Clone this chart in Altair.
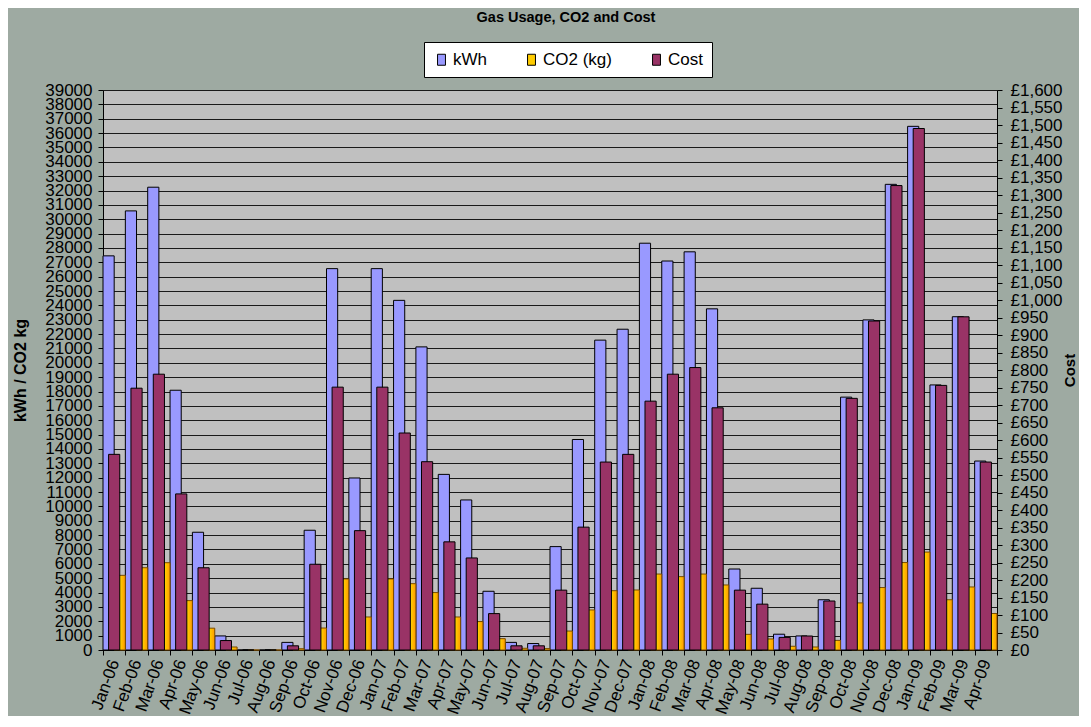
import altair as alt
import pandas as pd

months = ["Jan-06", "Feb-06", "Mar-06", "Apr-06", "May-06", "Jun-06", "Jul-06", "Aug-06",
          "Sep-06", "Oct-06", "Nov-06", "Dec-06", "Jan-07", "Feb-07", "Mar-07", "Apr-07",
          "May-07", "Jun-07", "Jul-07", "Aug-07", "Sep-07", "Oct-07", "Nov-07", "Dec-07",
          "Jan-08", "Feb-08", "Mar-08", "Apr-08", "May-08", "Jun-08", "Jul-08", "Aug-08",
          "Sep-08", "Oct-08", "Nov-08", "Dec-08", "Jan-09", "Feb-09", "Mar-09", "Apr-09"]

kwh = [27450, 30580, 32230, 18090, 8200, 980, 0, 0, 530, 8340, 26560, 11980,
       26560, 24350, 21110, 12230, 10450, 4090, 530, 450, 7200, 14660, 21580, 22340,
       28330, 27090, 27730, 23760, 5640, 4300, 1100, 980, 3500, 17610, 22990, 32430,
       36470, 18460, 23210, 13160]

co2 = [5200, 5730, 6080, 3440, 1520, 210, 0, 0, 90, 1530, 4950, 2300,
       4950, 4620, 4000, 2300, 1980, 790, 120, 100, 1320, 2790, 4130, 4180,
       5290, 5110, 5290, 4530, 1090, 770, 260, 210, 670, 3280, 4350, 6090,
       6820, 3500, 4390, 2540]

cost = [559, 748, 788, 446, 235, 27, 0, 0, 12, 245, 751, 341,
        751, 620, 538, 309, 263, 104, 12, 12, 171, 351, 537, 559,
        711, 788, 807, 692, 171, 131, 36, 40, 140, 719, 940, 1327,
        1490, 756, 952, 537]

series_names = ["kWh", "CO2 (kg)", "Cost"]
series_colors = ["#9999FF", "#FFCC00", "#993366"]
left_ticks = list(range(0, 39001, 1000))
right_ticks = list(range(0, 1601, 50))

df = pd.DataFrame({"Month": months, "kWh": kwh, "CO2": co2, "Cost": cost})

FONT = "Liberation Sans"

color_scale = alt.Scale(domain=series_names, range=series_colors)
legend = alt.Legend(
    orient="none", legendX=321, legendY=-48, direction="horizontal", title=None,
    fillColor="white", strokeColor="black", padding=9,
    symbolType="M-0.72,-1H0.72V1H-0.72Z", symbolSize=121,
    symbolStrokeColor="black", symbolStrokeWidth=1, symbolOpacity=1,
    labelFont=FONT, labelFontSize=17, labelColor="black", labelOffset=3,
    columnPadding=36,
)

x_enc = alt.X(
    "Month:N", sort=months, title=None,
    scale=alt.Scale(paddingInner=0, paddingOuter=0),
    axis=alt.Axis(labelAngle=-70, labelFont=FONT, labelFontSize=17, labelColor="black",
                  tickBand="extent", tickColor="black", tickSize=5, domainColor="black",
                  labelPadding=5, grid=False),
)
xoff = alt.XOffset("series:N", scale=alt.Scale(domain=["kWh", "CO2 (kg)"], paddingInner=0, paddingOuter=0))

left_scale = alt.Scale(domain=[0, 39000], nice=False, zero=True)
left_axis = alt.Axis(
    values=left_ticks, format="d", title="kWh / CO2 kg", titleFont=FONT, titleFontSize=16,
    titleFontWeight="bold", titleColor="black", titlePadding=16,
    labelFont=FONT, labelFontSize=17, labelColor="black", labelOverlap=False,
    labelPadding=6, tickColor="black", tickSize=5, domainColor="black",
    grid=True, gridColor="#1a1a1a", gridWidth=1,
)

kwh_layer = alt.Chart(df).transform_calculate(series='"kWh"').mark_bar(
    stroke="black", strokeWidth=1
).encode(
    x=x_enc, xOffset=xoff,
    y=alt.Y("kWh:Q", scale=left_scale, axis=left_axis),
    color=alt.Color("series:N", scale=color_scale, legend=legend),
)

gradient = {
    "gradient": "linear", "x1": 0, "y1": 0, "x2": 1, "y2": 0,
    "stops": [
        {"offset": 0, "color": "#FF9900"},
        {"offset": 0.5, "color": "#FFD400"},
        {"offset": 1, "color": "#FF9900"},
    ],
}

co2_layer = alt.Chart(df).transform_calculate(series='"CO2 (kg)"').mark_bar(
    stroke="#7a4d00", strokeWidth=1
).encode(
    x=x_enc, xOffset=xoff,
    y=alt.Y("CO2:Q", scale=left_scale, axis=left_axis),
    color=alt.Color("series:N", scale=color_scale, legend=legend),
    fill=alt.value(gradient),
)

cost_layer = alt.Chart(df).transform_calculate(series='"Cost"').mark_bar(
    stroke="black", strokeWidth=1, width=alt.RelativeBandSize(0.5)
).encode(
    x=x_enc,
    y=alt.Y("Cost:Q", scale=alt.Scale(domain=[0, 1600], nice=False, zero=True),
            axis=alt.Axis(orient="right", values=right_ticks, title="Cost",
                          labelExpr="'£' + format(datum.value, ',')",
                          titleFont=FONT, titleFontSize=15, titleFontWeight="bold",
                          titleColor="black", titlePadding=16, titleAngle=270,
                          labelFont=FONT, labelFontSize=17, labelColor="black",
                          labelOverlap=False, labelPadding=8, tickColor="black",
                          tickSize=5, domainColor="black", grid=False)),
    color=alt.Color("series:N", scale=color_scale, legend=legend),
)

primary = alt.layer(kwh_layer, co2_layer)

chart = alt.layer(primary, cost_layer).resolve_scale(
    y="independent"
).properties(
    width=894, height=560,
    title=alt.TitleParams("Gas Usage, CO2 and Cost", font=FONT, fontSize=14.5,
                          fontWeight="bold", color="black", anchor="middle",
                          frame="group", offset=16, dx=16),
    autosize=alt.AutoSizeParams(type="none"),
    padding={"left": 95, "top": 82, "right": 82, "bottom": 66},
    background="#9EAAA2",
).configure_view(fill="#C0C0C0", stroke="#808080", strokeWidth=1)

chart.save("out.html", embed_options={"renderer": "svg", "actions": False})
